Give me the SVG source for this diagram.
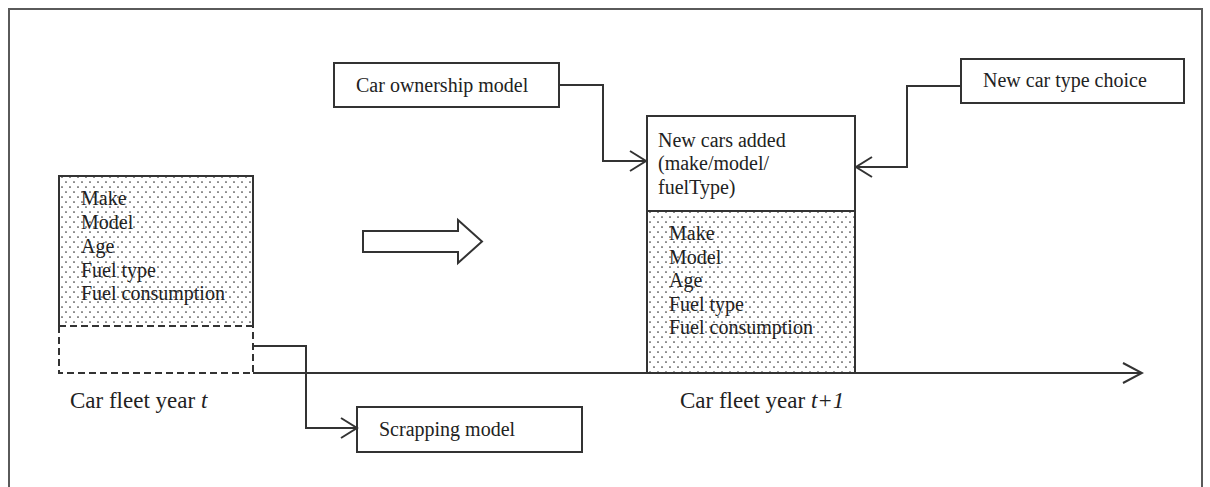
<svg xmlns="http://www.w3.org/2000/svg" width="1210" height="487" viewBox="0 0 1210 487">
<style>
.frame{fill:none;stroke:#5a5a5a;stroke-width:2}
.box{fill:#fff;stroke:#333;stroke-width:2}
.ln{fill:none;stroke:#333;stroke-width:2}
.dash{fill:none;stroke:#333;stroke-width:2;stroke-dasharray:7 4}
.t{font-family:"Liberation Serif","Times New Roman",serif;font-size:20px;fill:#222}
.lab{font-family:"Liberation Serif","Times New Roman",serif;font-size:23px;fill:#222}
</style>
<defs>
<pattern id="dots" width="8" height="10" patternUnits="userSpaceOnUse">
<rect width="8" height="10" fill="#fff"/>
<circle cx="2" cy="2" r="0.85" fill="#333"/>
<circle cx="6" cy="7" r="0.85" fill="#333"/>
</pattern>
<marker id="chev" markerWidth="20" markerHeight="24" refX="17" refY="11" orient="auto" markerUnits="userSpaceOnUse">
<path d="M1,1 L17,11 L1,21" fill="none" stroke="#333" stroke-width="2"/>
</marker>
<marker id="chevBig" markerWidth="22" markerHeight="24" refX="20" refY="11" orient="auto" markerUnits="userSpaceOnUse">
<path d="M1,1 L20,11 L1,21" fill="none" stroke="#333" stroke-width="2"/>
</marker>
</defs>
<rect width="1210" height="487" fill="#fff"/>
<path class="frame" d="M9,490 L9,9 L1202,9 L1202,490"/>

<g id="fleet-t">
<rect x="59" y="176" width="194" height="150" fill="url(#dots)"/>
<path class="ln" d="M59,326 L59,176 L253,176 L253,326"/>
<line class="dash" x1="59" y1="326" x2="253" y2="326"/>
<path class="dash" d="M59,326 L59,373 L253,373 L253,326"/>
<text class="t" x="81" y="205">Make</text>
<text class="t" x="81" y="229">Model</text>
<text class="t" x="81" y="253">Age</text>
<text class="t" x="81" y="277">Fuel type</text>
<text class="t" x="81" y="300">Fuel consumption</text>
<text class="lab" x="70" y="408">Car fleet year <tspan font-style="italic">t</tspan></text>
</g>

<g id="fleet-t1">
<rect class="box" x="647" y="116" width="208" height="95"/>
<rect x="647" y="211" width="208" height="162" fill="url(#dots)" stroke="#333" stroke-width="2"/>
<text class="t" x="658" y="147">New cars added</text>
<text class="t" x="658" y="170">(make/model/</text>
<text class="t" x="658" y="194">fuelType)</text>
<text class="t" x="669" y="240">Make</text>
<text class="t" x="669" y="264">Model</text>
<text class="t" x="669" y="287">Age</text>
<text class="t" x="669" y="311">Fuel type</text>
<text class="t" x="669" y="334">Fuel consumption</text>
<text class="lab" x="680" y="408">Car fleet year <tspan font-style="italic">t+1</tspan></text>
</g>

<g id="car-ownership">
<rect class="box" x="334" y="63" width="225" height="44"/>
<text class="t" x="356" y="92">Car ownership model</text>
</g>

<g id="new-car-type">
<rect class="box" x="961" y="59" width="223" height="44"/>
<text class="t" x="983" y="87">New car type choice</text>
</g>

<g id="scrapping">
<rect class="box" x="357" y="407" width="225" height="45"/>
<text class="t" x="379" y="436">Scrapping model</text>
</g>

<g id="transition-arrow">
<polygon points="363,231 458,231 458,220 482,241.5 458,263 458,252 363,252" fill="#fff" stroke="#333" stroke-width="2"/>
</g>

<g id="connectors">
<line class="ln" x1="253" y1="373" x2="1142" y2="373" marker-end="url(#chevBig)"/>
<polyline class="ln" points="559,85 603,85 603,161 646,161" marker-end="url(#chev)"/>
<polyline class="ln" points="961,86 907,86 907,167 856,167" marker-end="url(#chev)"/>
<polyline class="ln" points="253,346 306,346 306,428 357,428" marker-end="url(#chev)"/>
</g>
</svg>
